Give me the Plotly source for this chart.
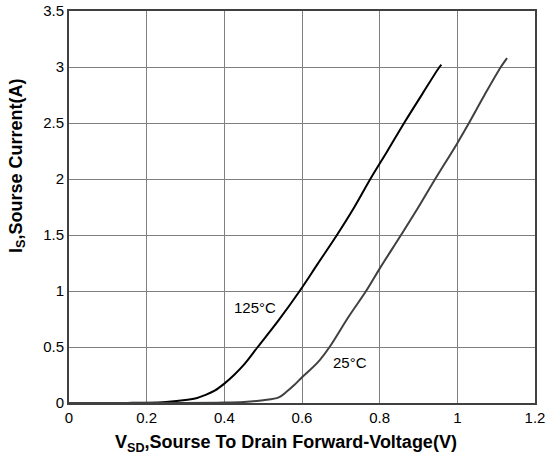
import plotly.graph_objects as go

x125 = [0.0, 0.1, 0.15, 0.2, 0.25, 0.3, 0.33, 0.35, 0.375, 0.4, 0.425, 0.45, 0.486, 0.54, 0.594, 0.64, 0.69, 0.735, 0.776, 0.82, 0.863, 0.91, 0.954, 0.959]
y125 = [0.0, 0.0, 0.001, 0.003, 0.01, 0.027, 0.045, 0.07, 0.11, 0.173, 0.25, 0.34, 0.5, 0.74, 1.0, 1.24, 1.5, 1.75, 2.0, 2.25, 2.5, 2.76, 3.0, 3.02]
x25 = [0.0, 0.3, 0.4, 0.45, 0.5, 0.54, 0.56, 0.58, 0.6, 0.64, 0.671, 0.72, 0.765, 0.8, 0.855, 0.9, 0.943, 1.0, 1.03, 1.07, 1.112, 1.128]
y25 = [0.0, 0.0, 0.004, 0.01, 0.025, 0.05, 0.1, 0.16, 0.23, 0.36, 0.5, 0.77, 1.0, 1.2, 1.5, 1.75, 2.0, 2.32, 2.5, 2.75, 3.0, 3.08]
labels = ["125°C", "25°C"]
label_x = [0.48, 0.724]
label_y = [0.85, 0.366]
x_title = "<b>V<sub>SD</sub>,Sourse To Drain Forward-Voltage(V)</b>"
y_title = "<b>I<sub>S</sub>,Sourse Current(A)</b>"

fig = go.Figure()
fig.add_trace(go.Scatter(x=x125, y=y125, mode="lines", line=dict(color="#000000", width=2, shape="spline", smoothing=1), showlegend=False))
fig.add_trace(go.Scatter(x=x25, y=y25, mode="lines", line=dict(color="#404040", width=2, shape="spline", smoothing=1), showlegend=False))
for t, xx, yy in zip(labels, label_x, label_y):
    fig.add_annotation(x=xx, y=yy, text=t, showarrow=False, font=dict(size=15, color="#000"))

fig.add_annotation(xref="paper", yref="paper", x=0.466, y=-0.103, text=x_title, showarrow=False,
                   xanchor="center", yanchor="middle", font=dict(size=18, color="#000"))
fig.add_annotation(xref="paper", yref="paper", x=-0.112, y=0.604, text=y_title, showarrow=False, textangle=-90,
                   xanchor="center", yanchor="middle", font=dict(size=18, color="#000"))

axis_common = dict(showgrid=True, gridcolor="#808080", gridwidth=1, showline=True, linecolor="#404040", linewidth=2,
                   mirror=True, zeroline=False, ticks="", automargin=False,
                   tickfont=dict(size=15, color="#000", family="Liberation Sans"))
fig.update_xaxes(range=[0, 1.2], tickvals=[0, 0.2, 0.4, 0.6, 0.8, 1, 1.2],
                 ticktext=["0", "0.2", "0.4", "0.6", "0.8", "1", "1.2"], **axis_common)
fig.update_yaxes(range=[0, 3.5], tickvals=[0, 0.5, 1, 1.5, 2, 2.5, 3, 3.5],
                 ticktext=["0", "0.5", "1", "1.5", "2", "2.5", "3", "3.5"], **axis_common)
fig.update_layout(width=549, height=461, margin=dict(l=69, r=14, t=11, b=58),
                  plot_bgcolor="white", paper_bgcolor="white",
                  font=dict(family="Liberation Sans", color="#000"))
fig.write_html("out.html")
